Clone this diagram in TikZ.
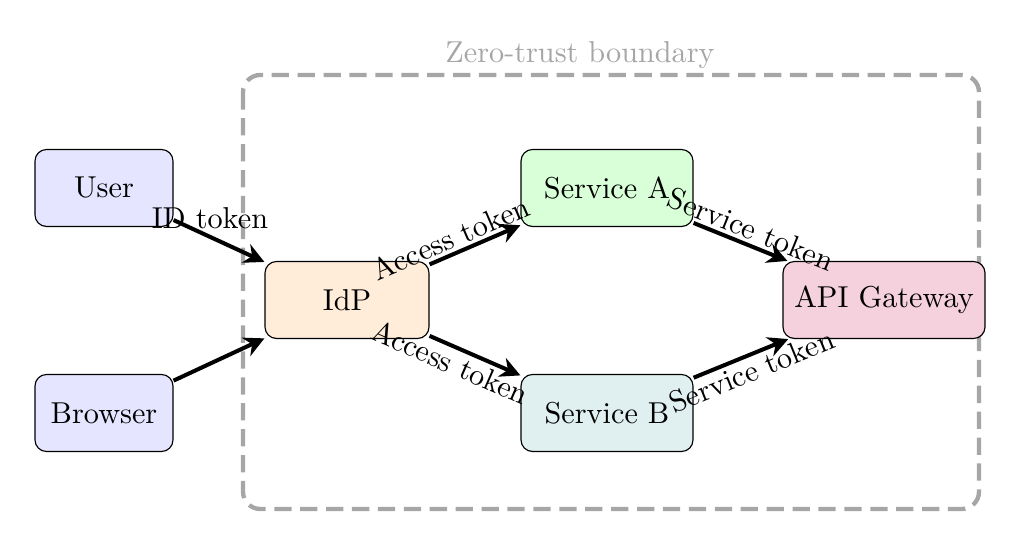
\documentclass[tikz,border=0pt]{standalone}
\usetikzlibrary{arrows.meta}
\begin{document}
\begin{tikzpicture}[x=0.0122cm,y=-0.0122cm,
  box/.style={draw,rounded corners=4pt,minimum height=77*0.0122cm,inner sep=2pt},
  arr/.style={-{Stealth[length=7pt,width=7pt]},line width=1.4pt},
  every node/.append style={font=\fontsize{10.5}{12}\selectfont}]
\useasboundingbox (0,0) rectangle (1020,547);
\draw[gray!70,line width=1.5pt,dash pattern=on 6pt off 3pt,rounded corners=6pt] (243,75) rectangle (979,509);
\node[gray!70] (bl) at (580,55) {Zero-trust boundary};
\node[box,fill=blue!10,minimum width=138*0.0122cm] (user) at (104,188) {User};
\node[box,fill=blue!10,minimum width=138*0.0122cm] (browser) at (104,413) {Browser};
\node[box,fill=orange!15,minimum width=164*0.0122cm] (idp) at (347,300) {IdP};
\node[box,fill=green!15,minimum width=172*0.0122cm] (sa) at (607,188) {Service A};
\node[box,fill=teal!12,minimum width=172*0.0122cm] (sb) at (607,413) {Service B};
\node[box,fill=purple!18,minimum width=202*0.0122cm] (gw) at (884,300) {API Gateway};
\draw[arr] (user) -- node[above,pos=0.4,inner sep=2pt] {ID token} (idp);
\draw[arr] (browser) -- (idp);
\draw[arr] (idp) -- node[above,sloped,pos=0.3,inner sep=1pt] {Access token} (sa);
\draw[arr] (idp) -- node[below,sloped,pos=0.3,inner sep=1pt] {Access token} (sb);
\draw[arr] (sa) -- node[above,sloped,pos=0.55,inner sep=1pt] {Service token} (gw);
\draw[arr] (sb) -- node[below,sloped,pos=0.55,inner sep=1pt] {Service token} (gw);
\end{tikzpicture}
\end{document}
